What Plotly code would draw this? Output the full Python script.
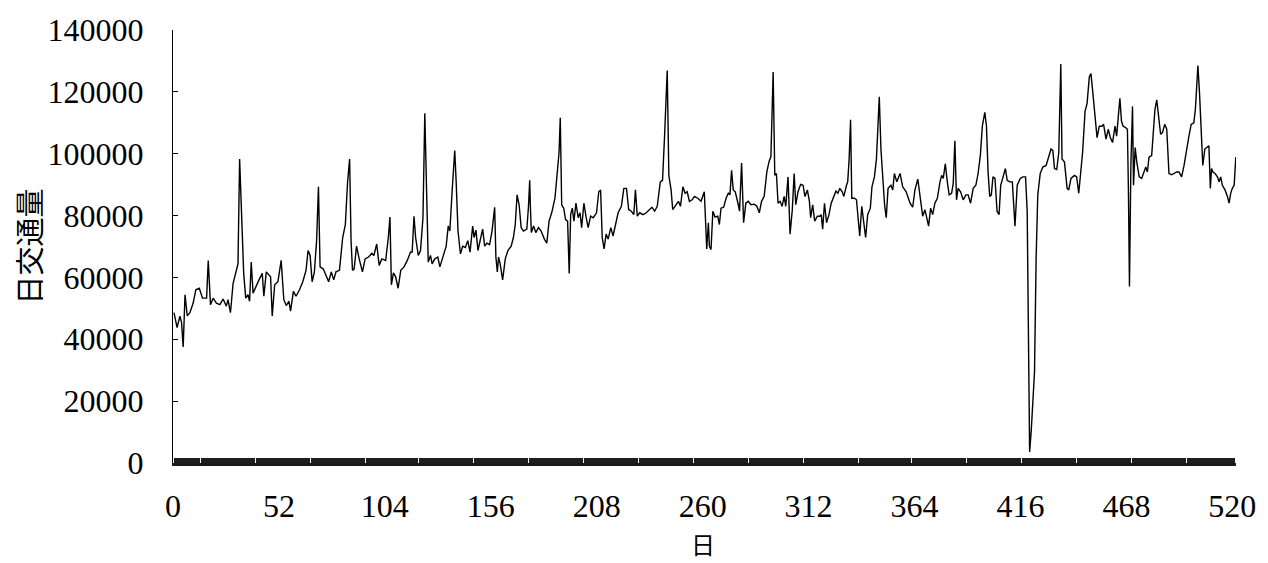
import plotly.graph_objects as go

# Day index (x) and daily traffic volume (y)
day = [0.5, 2, 3.4, 4.2, 5, 5.9, 7, 8.3, 9.9, 11.2, 12.9, 14.5, 16.5, 17.3, 18.4, 19.7, 21.3, 23, 24.6, 26.2,
       27, 28.2, 29.5, 31.1, 31.9, 32.7, 33.6, 34.7, 35.7, 36.8, 37.6, 38.4, 39.3, 40.6, 42.2, 43.8, 44.6, 45.8, 47.1, 47.9,
       48.7, 49.9, 51.5, 53.1, 54.4, 55.6, 56.9, 57.7, 59.1, 60.4, 62.1, 63.7, 65.3, 66.3, 67.3, 68.3, 69.4, 70.5, 71.4, 72.2,
       73.8, 75.1, 76.4, 77.7, 78.9, 80, 81.7, 83.3, 84.6, 85.7, 86.7,
       87.4, 88.1, 88.9, 90.1, 91.4, 93, 94.3, 96, 97.6, 98.6, 100, 101.2, 102.5, 104.4, 105.7, 106.5, 107.2, 108.2, 109.3, 110.5,
       111.8, 113.4, 115, 116.6, 117.4, 118.3, 119.1, 120.4, 121.5, 122.7, 123.6, 124.5, 125.3, 126.4, 127.2, 128.5, 130, 131, 132.4, 134.1,
       135.1, 135.9, 137, 138.3, 139, 139.9, 141.1, 142.2, 143.5, 144.7, 145.8, 147.1, 147.8, 148.7, 149.7, 150.9, 152, 153, 154.1, 155.4,
       156.6, 157.9, 158.5, 159.2, 159.8, 160.6, 161.8, 163.1, 164.4, 166, 167.1, 168, 168.9, 169.9, 170.9, 172, 173.7, 174.5, 175.1,
       175.4, 175.9, 177, 178.1, 179.4, 180.7, 182.3, 183.5, 184.6, 185.9, 187.5, 188.8, 189.5, 190.1, 190.8, 191.8, 192.7, 193.7, 194.5, 195.2,
       196, 196.8, 197.8, 198.9, 199.8, 200.6, 201.7, 202.7, 203.8, 205, 206.3, 207.9, 209, 209.9, 210.7, 211.6, 212.6, 213.6, 214.9, 216,
       217.2, 218.5, 220.1, 221.3, 222.6, 223.7, 225, 226.2, 227, 227.9, 229.1, 230.7, 232.3, 234, 235.1, 236.4, 237.7, 239.2, 240.3, 241.3,
       242.6, 243.4, 244.5, 245.3, 246.5, 248.1, 249.1, 250.3, 251.4, 252.4, 253.5, 254.8, 256, 257.6, 259.2, 260.8, 262, 262.8,
       263.3, 264.1, 265, 266.1, 267.4, 268.2, 269, 270.3, 271.5, 272.6, 273.4, 274.2, 275, 276, 277.5, 278.1, 279.1, 280.1, 281.2, 282.4,
       283.7, 285.3, 286.6, 287.8, 288.9, 290.2, 291.5, 292.6, 293.5, 294.6, 295.4, 296.2, 297, 298, 299, 300, 300.8, 301.9, 302.9, 304,
       304.9, 305.7, 306.8, 308.1, 309.3, 310.2, 311.4, 312.4, 313, 314, 315, 316.3, 317.5, 318.2, 318.9, 319.8, 320.8, 322, 323.1, 324.4,
       325.4, 326.4, 327.3, 328.5, 329.3, 330.6, 331.2, 331.9, 332.6, 333.2, 334.5, 335.5, 336.3, 337.1, 338.1, 339.1, 340, 341, 342.3, 343.1,
       344.3, 345.3, 346.1, 346.7, 347.5, 348.4, 349.3, 350.1, 351,
       352.4, 353.3, 354.1, 355.3, 356.9, 358.2, 359.9, 361.8, 363.1, 364.2, 365.6, 366.7, 368, 369.1, 369.9, 370.9, 371.9, 372.9, 374, 375.2,
       376.5, 377.3, 378.1, 379.1, 380.1, 381, 382.2, 383, 383.8, 384.6, 385.4, 386.6, 387.9, 389.2, 390.3, 391.5, 392.8, 394.1, 395.2, 396.3,
       397.3, 398.5, 399.3, 400.1, 400.9, 401.7, 402.5, 403.5, 404.5, 405.5, 406.3, 407.4, 408.6, 409.5, 410.7, 412, 413.3, 414.4, 415.9, 417.2,
       418.5, 419.3, 420, 420.5, 421.3, 422.1, 422.9, 423.7, 424.5, 425.7, 427, 428.6, 429.9, 431, 431.9, 432.7, 433.8, 434.8, 435.8, 436.4,
       437.6, 438.9,
       439.7, 440.8, 442.5, 443.6, 444.6, 445.7, 446.5, 447.7, 448.7, 449.8, 450.6, 451.4, 452.4, 453.6, 454.7, 456, 456.8, 458, 459.1, 460.1,
       461.2, 462.4, 463.2, 464, 464.8, 465.6, 466.4, 467.7, 468.5, 469, 469.5, 470.2, 471, 471.5, 472.3, 473.1, 474.3, 475.5, 476.7, 477.5,
       478.3, 479.1, 480.4, 481.2, 482, 482.9, 483.7, 484.8, 485.7, 486.8, 487.8, 488.9, 490.2, 491.3, 492.7, 493.8, 495.1, 496.3, 497.4, 498.7,
       499.8, 501.1, 501.9, 502.6, 503.1, 503.9, 504.9, 505.5, 506.5, 507.7, 508.5, 509.2, 509.8, 510.5, 511.5, 512.7, 513.5, 514.3, 515.1, 516.4,
       517.6, 518.4, 519.2, 520, 520.9, 521.7]

traffic = [48600, 43800, 47500, 45400, 37500, 54400, 47600, 48600, 51700, 56000, 56500, 53300, 53300, 65500, 51200, 53300, 51700, 51200, 53000, 50700,
           52800, 48600, 58100, 62300, 64400, 98300, 81400, 61300, 53300, 54400, 52300, 65000, 54900, 57000, 59200, 61300, 53900, 61800, 60700, 60200,
           47500, 57600, 58600, 65500, 52800, 50900, 52300, 49100, 55500, 53900, 56000, 58600, 62300, 68700, 67100, 58600, 61800, 71900, 89300, 63400,
           62700, 60700, 58600, 61800, 59200, 61800, 62300, 72900, 77100, 90900, 98300,
           72000, 62300, 62700, 70100, 66000, 61800, 66000, 66600, 67800, 67100, 70800, 63900, 66000, 65500, 72900, 79500, 57600, 61500, 60200, 56500,
           62300, 63400, 65500, 68200, 68200, 79800, 72900, 67100, 68700, 79300, 113100, 84600, 65000, 67100, 64400, 66000, 66600, 63400, 66600, 70100,
           76600, 75000, 87700, 101000, 90900, 75000, 67600, 70100, 69700, 71900, 68200, 76600, 72900, 75300, 68700, 72400, 75600, 70100, 71100, 70600,
           75000, 82700, 66600, 61800, 66600, 64400, 59200, 66000, 68700, 70100, 72900, 77100, 86700, 83500, 76100, 75000, 75600, 83000, 91400,
           83500, 74500, 76600, 74500, 76100, 75000, 72400, 71100, 78200, 80900, 85600, 94100, 100400, 111600, 83500, 82400, 78700, 78200, 61300, 80300,
           82400, 78200, 84000, 79300, 80900, 76100, 84000, 79800, 76100, 79800, 79300, 80900, 87700, 88300, 72900, 69200, 74000, 72400, 76100, 73400,
           77100, 80900, 83000, 88800, 88800, 81900, 81400, 80300, 88300, 79800, 80900, 80300, 80900, 81900, 82700, 81400, 83000, 90900, 91400, 105700,
           126900, 93000, 88300, 81900, 83000, 84600, 83000, 89300, 87200, 87700, 84600, 85100, 86200, 85600, 84600, 87700, 69200, 77700,
           70100, 69000, 81400, 79500, 79800, 77100, 82400, 82700, 85600, 87200, 86700, 94600, 88300, 87700, 83500, 81400, 97000, 77700, 84000, 84600,
           83500, 83700, 83000, 80900, 84600, 86200, 94100, 97500, 99100, 126400, 93000, 93600, 84000, 84600, 83000, 86200, 83000, 92500, 74000, 81900,
           93600, 83500, 87700, 90100, 89800, 86200, 88300, 84600, 79300, 83500, 78200, 79800, 79800, 80300, 75600, 84000, 77700, 80300, 84000, 86200,
           87900, 87200, 88800, 87700, 86200, 89800, 90900, 98300, 111000, 85600, 85600, 85100, 80300, 73400, 83000, 77700, 72900, 80300, 82400, 89300,
           92500, 98300, 112100, 118400, 101500, 90900, 83500, 79300, 88800,
           89800, 88300, 93600, 90900, 93600, 89300, 87700, 84000, 82700, 88300, 91800, 86200, 79800, 81900, 79300, 76600, 82400, 80300, 84000, 85600,
           90900, 93000, 92000, 96700, 90900, 86700, 87200, 90400, 104200, 85100, 88800, 87700, 85100, 86700, 86700, 84000, 88800, 89800, 93600, 99400,
           109000, 113400, 109000, 94100, 86200, 86700, 92500, 92000, 81400, 80300, 89800, 92500, 95200, 91400, 90900, 90900, 76600, 89800, 92000, 92500,
           92500, 81400, 34800, 3600, 10500, 22100, 29500, 66600, 86700, 93600, 95700, 96200, 99400, 101500, 101000, 95200, 94900, 100400, 129000, 98300,
           97300, 88800,
           88300, 92000, 93000, 92500, 87200, 96200, 100400, 113700, 116300, 124800, 125900, 120600, 113100, 105200, 108900, 108900, 109500, 104700, 107900, 105200,
           103600, 108900, 105700, 111000, 117900, 110500, 108900, 108400, 107900, 87700, 57100, 96200, 115300, 89800, 102000, 97300, 92500, 92000, 94100, 95700,
           94100, 98900, 99400, 108900, 114200, 117400, 113100, 106300, 106800, 109500, 107900, 93600, 93200, 93600, 94100, 94100, 92500, 96200, 101000, 105700,
           109500, 110000, 114700, 122100, 128500, 119500, 103100, 96200, 101500, 102000, 102600, 88800, 95200, 94100, 93600, 92500, 90900, 92500, 89800, 88300,
           86200, 84000, 87200, 88800, 89800, 98900]

x_ticks = [0, 52, 104, 156, 208, 260, 312, 364, 416, 468, 520]
y_ticks = [0, 20000, 40000, 60000, 80000, 100000, 120000, 140000]

y_title = "日交通量"
x_title = "日"

tick_font = dict(family="Liberation Serif, DejaVu Serif, serif", size=32, color="black")
cjk_font = "Noto Sans CJK JP"

fig = go.Figure()
fig.add_trace(go.Scatter(
    x=day, y=traffic, mode="lines",
    line=dict(color="black", width=1.4),
    showlegend=False, hoverinfo="skip",
))

fig.update_layout(
    width=1268, height=563,
    margin=dict(l=173, r=27, t=22, b=100),
    paper_bgcolor="white", plot_bgcolor="white",
    xaxis=dict(
        range=[0, 521.8],
        tickmode="array", tickvals=x_ticks, ticktext=[str(v) for v in x_ticks],
        ticks="inside", ticklen=5, tickwidth=1.6, tickcolor="#1e1e1e",
        minor=dict(dtick=1, tick0=0, ticks="inside", ticklen=5, tickwidth=1.6,
                   tickcolor="#1e1e1e", showgrid=False),
        showline=True, linecolor="#1a1a1a", linewidth=3,
        showgrid=False, zeroline=False,
        tickfont=tick_font, ticklabelstandoff=13,
    ),
    yaxis=dict(
        range=[0, 140000],
        tickmode="array", tickvals=y_ticks, ticktext=[str(v) for v in y_ticks],
        ticks="inside", ticklen=5, tickwidth=1, tickcolor="black",
        showline=True, linecolor="black", linewidth=1,
        showgrid=False, zeroline=False,
        tickfont=tick_font, ticklabelstandoff=22,
    ),
    annotations=[
        dict(text=y_title, xref="paper", yref="paper", x=-0.1368, y=0.499,
             xanchor="center", yanchor="middle", textangle=-90, showarrow=False,
             font=dict(family=cjk_font, size=29, color="black")),
        dict(text=x_title, xref="paper", yref="paper", x=0.4986, y=-0.186,
             xanchor="center", yanchor="middle", showarrow=False,
             font=dict(family=cjk_font, size=24, color="black")),
    ],
)

fig.write_html("out.html")
